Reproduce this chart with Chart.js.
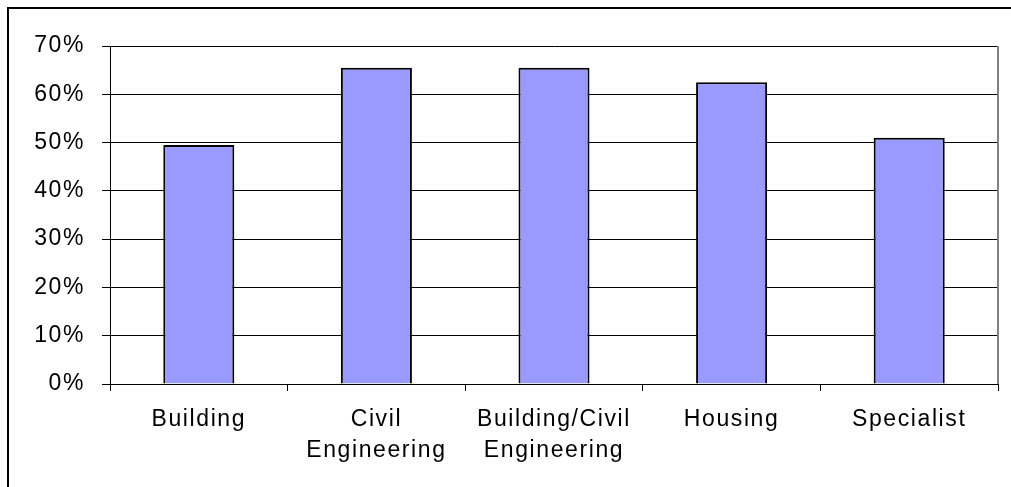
<!DOCTYPE html>
<html>
<head>
<meta charset="utf-8">
<script src="https://cdn.jsdelivr.net/npm/chart.js@4/dist/chart.umd.min.js"></script>
<style>
    html, body { margin: 0; padding: 0; background: #fff; }
    #wrap { position: relative; width: 1011px; height: 487px; overflow: hidden; }
    #frame { position: absolute; left: 7px; top: 7px; width: 1100px; height: 600px;
             border-left: 2px solid #000; border-top: 2px solid #000; pointer-events: none; }
    canvas { position: absolute; left: 0; top: 0; }
</style>
</head>
<body>
<div id="wrap">
    <canvas id="chart" width="1011" height="487"></canvas>
    <div id="frame"></div>
</div>
<script>
const categories = [
    'Building',
    ['Civil', 'Engineering'],
    ['Building/Civil', 'Engineering'],
    'Housing',
    'Specialist'
];
const shareValues = [49.5, 65.5, 65.5, 62.5, 51];
const yTicks = [0, 10, 20, 30, 40, 50, 60, 70];

// Excel-style spaced lettering; canvas state resets on resize, so set it each pass
const letterSpacingPlugin = {
    id: 'letterSpacing',
    beforeUpdate: (chart) => { chart.ctx.letterSpacing = '1.6px'; },
    beforeDraw: (chart) => { chart.ctx.letterSpacing = '1.6px'; }
};

const plotEdgePlugin = {
    id: 'plotEdge',
    afterDraw: (chart) => {
        const { ctx, chartArea } = chart;
        ctx.save();
        ctx.strokeStyle = '#808080';
        ctx.lineWidth = 2;
        ctx.beginPath();
        ctx.moveTo(chartArea.right, chartArea.top);
        ctx.lineTo(chartArea.right, chartArea.bottom);
        ctx.stroke();
        ctx.restore();
    }
};

new Chart(document.getElementById('chart').getContext('2d'), {
    type: 'bar',
    data: {
        labels: categories,
        datasets: [{
            data: shareValues,
            backgroundColor: '#9999FF',
            borderColor: '#000',
            borderWidth: 2,
            barPercentage: 0.4,
            categoryPercentage: 1
        }]
    },
    options: {
        responsive: false,
        animation: false,
        layout: { padding: { left: 0, top: 46, right: 13, bottom: 0 } },
        plugins: { legend: { display: false }, tooltip: { enabled: false } },
        scales: {
            x: {
                grid: { offset: true, drawOnChartArea: false, color: '#000', tickLength: 7 },
                border: { color: '#000', width: 1 },
                ticks: {
                    color: '#000',
                    padding: 13,
                    maxRotation: 0,
                    font: { family: 'Liberation Sans, Arial, sans-serif', size: 23, lineHeight: 1.35 }
                },
                afterFit: (scale) => { scale.height = 103; }
            },
            y: {
                min: 0,
                max: 70,
                afterBuildTicks: (scale) => { scale.ticks = yTicks.map(v => ({ value: v })); },
                grid: { color: '#000', lineWidth: 1, tickLength: 8 },
                border: { color: '#000', width: 1 },
                ticks: {
                    color: '#000',
                    padding: 17,
                    callback: (v) => v + '%',
                    font: { family: 'Liberation Sans, Arial, sans-serif', size: 23 }
                },
                afterFit: (scale) => { scale.width = 110; }
            }
        }
    },
    plugins: [letterSpacingPlugin, plotEdgePlugin]
});
</script>
</body>
</html>
